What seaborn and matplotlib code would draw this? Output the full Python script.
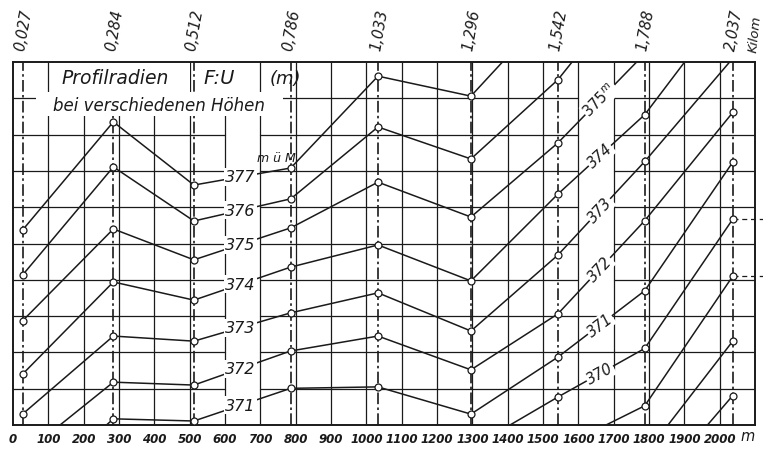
import numpy as np
import pandas as pd
import matplotlib.pyplot as plt
import matplotlib.transforms as mtransforms
from matplotlib.patches import Rectangle
import seaborn as sns

nan = np.nan

# stations (km label) and distance along the reach (m)
stations_km = ["0,027", "0,284", "0,512", "0,786", "1,033", "1,296", "1,542", "1,788", "2,037"]
stations_m = [27, 284, 512, 786, 1033, 1296, 1542, 1788, 2037]

# profile radius F:U per water level (m ü M) in grid rows
# values outside 0..10 run off the sheet and get clipped
r377 = [5.37, 8.35, 6.61, 7.08, 9.61, 9.06, 11.65, nan, nan]
r376 = [4.13, 7.11, 5.62, 6.23, 8.21, 7.33, 9.51, 12.5, nan]
r375 = [2.87, 5.40, 4.55, 5.43, 6.69, 5.73, 7.77, 10.23, nan]
r374 = [1.40, 3.94, 3.44, 4.35, 4.96, 3.97, 6.36, 8.55, 11.75]
r373 = [0.30, 2.45, 2.31, 3.09, 3.64, 2.59, 4.68, 7.26, 10.1]
r372 = [-0.83, 1.18, 1.10, 2.04, 2.45, 1.52, 3.06, 5.63, 8.61]
r371 = [-2.09, 0.17, 0.11, 1.01, 1.05, 0.30, 1.87, 3.70, 7.24]
r370 = [nan, nan, nan, nan, nan, -0.63, 0.77, 2.11, 5.67]
r369 = [nan, nan, nan, nan, nan, nan, -0.66, 0.53, 4.10]
r368 = [nan, nan, nan, nan, nan, nan, nan, -0.83, 2.31]
r367 = [nan, nan, nan, nan, nan, nan, nan, -2.01, 0.81]

levels = [377, 376, 375, 374, 373, 372, 371, 370, 369, 368, 367]
radii = [r377, r376, r375, r374, r373, r372, r371, r370, r369, r368, r367]

left_labels = [377, 376, 375, 374, 373, 372, 371]
right_labels = [375, 374, 373, 372, 371, 370]

x_ticks = list(range(0, 2001, 100))

rows = []
for lev, r in zip(levels, radii):
    for d, v in zip(stations_m, r):
        if not np.isnan(v):
            rows.append({"dist": d, "radius": v, "level": lev})
df = pd.DataFrame(rows)

sns.set_style("white")
plt.rcParams["font.family"] = ["DejaVu Sans"]
ink = "#1a1a1a"

fig = plt.figure(figsize=(7.63, 4.52), dpi=100)
ax = fig.add_axes([13 / 763, 26 / 452, 742 / 763, 363 / 452])
ax.set_xlim(0, 2100)
ax.set_ylim(0, 10)

# grid paper
ax.vlines(range(100, 2100, 100), 0, 10, color=ink, lw=0.9, zorder=1)
for u in range(1, 10):
    if u >= 4:
        segs = [(0, 600), (700, 1600), (1700, 2100)]
    else:
        segs = [(0, 600), (700, 2100)]
    for a, b in segs:
        ax.plot([a, b], [u, u], color=ink, lw=0.9, zorder=1)

# station lines
ax.vlines(stations_m, 0, 10, color=ink, lw=1.2, linestyles=[(0, (7, 2, 1.5, 2))], zorder=1.5)

sns.lineplot(data=df, x="dist", y="radius", units="level", estimator=None,
             color=ink, lw=1.1, marker="o", markersize=5, markerfacecolor="white",
             markeredgecolor=ink, markeredgewidth=0.9, legend=False, ax=ax, zorder=3)

# level labels between the stations
xl = 643
for lev in left_labels:
    r = radii[levels.index(lev)]
    y = np.interp(xl, stations_m[2:4], r[2:4])
    ax.text(xl, y, str(lev), fontsize=11.5, style="italic", ha="center", va="center",
            color=ink, zorder=5,
            bbox=dict(facecolor="white", edgecolor="none", pad=1.0))

xr = 1661
for lev in right_labels:
    r = radii[levels.index(lev)]
    y = np.interp(xr, stations_m[6:8], r[6:8])
    ang = np.degrees(np.arctan2(r[7] - r[6], stations_m[7] - stations_m[6]))
    txt = r"$\mathit{375}^{\mathit{m}}$" if lev == 375 else str(lev)
    ax.text(xr, y, txt, fontsize=10.5, style="italic", ha="center", va="center",
            color=ink, zorder=5, rotation=ang, transform_rotates_text=True,
            rotation_mode="anchor",
            bbox=dict(facecolor="white", edgecolor="none", pad=0.8))

ax.text(744, 7.38, "m ü M", fontsize=9, style="italic", ha="center", va="center",
        color=ink, zorder=5)

# dashed leaders at the right edge
for v in [r370[-1], r369[-1]]:
    ax.plot([2037, 2130], [v, v], color=ink, lw=0.9, ls=(0, (4, 3)), clip_on=False, zorder=2)

# title block
px = lambda p: (p - 13) / 0.3533
for x0, x1, y0, y1 in [(56, 190, 9.09, 9.97), (197, 254, 9.09, 9.97), (36, 283, 8.51, 9.17)]:
    ax.add_patch(Rectangle((px(x0), y0), px(x1) - px(x0), y1 - y0, facecolor="white",
                           edgecolor="none", zorder=4))
ax.text(px(115), 9.56, "Profilradien", fontsize=13.5, style="italic", ha="center",
        va="center", color=ink, zorder=5)
ax.text(px(219), 9.56, "F:U", fontsize=14, style="italic", ha="center", va="center",
        color=ink, zorder=5)
ax.text(px(285), 9.56, "(m)", fontsize=13, style="italic", ha="center", va="center",
        color=ink, zorder=5)
ax.text(px(159), 8.82, "bei verschiedenen Höhen", fontsize=12, style="italic",
        ha="center", va="center", color=ink, zorder=5)

# station km labels on top
trans = mtransforms.blended_transform_factory(ax.transData, ax.transAxes)
for d, lab in zip(stations_m, stations_km):
    ax.text(d + 3, 1.09, lab, transform=trans, rotation=80, fontsize=10.5, style="italic",
            ha="center", va="center", color=ink, clip_on=False)
ax.text(2100, 1.08, "Kilom", transform=trans, rotation=84, fontsize=9.5, style="italic",
        ha="center", va="center", color=ink, clip_on=False)

ax.set_xticks(x_ticks)
ax.set_xticklabels([str(t) for t in x_ticks], fontsize=8.5, style="italic",
                   fontweight="semibold", color=ink)
ax.tick_params(axis="x", length=0, pad=5)
ax.set_yticks([])
ax.set_xlabel("")
ax.set_ylabel("")
ax.text(2078, -0.3, "m", transform=ax.transData, fontsize=10.5, style="italic",
        ha="center", va="center", color=ink, clip_on=False)
for s in ax.spines.values():
    s.set_color(ink)
    s.set_linewidth(1.4)

fig.savefig("out.png", dpi=100, facecolor="white")
